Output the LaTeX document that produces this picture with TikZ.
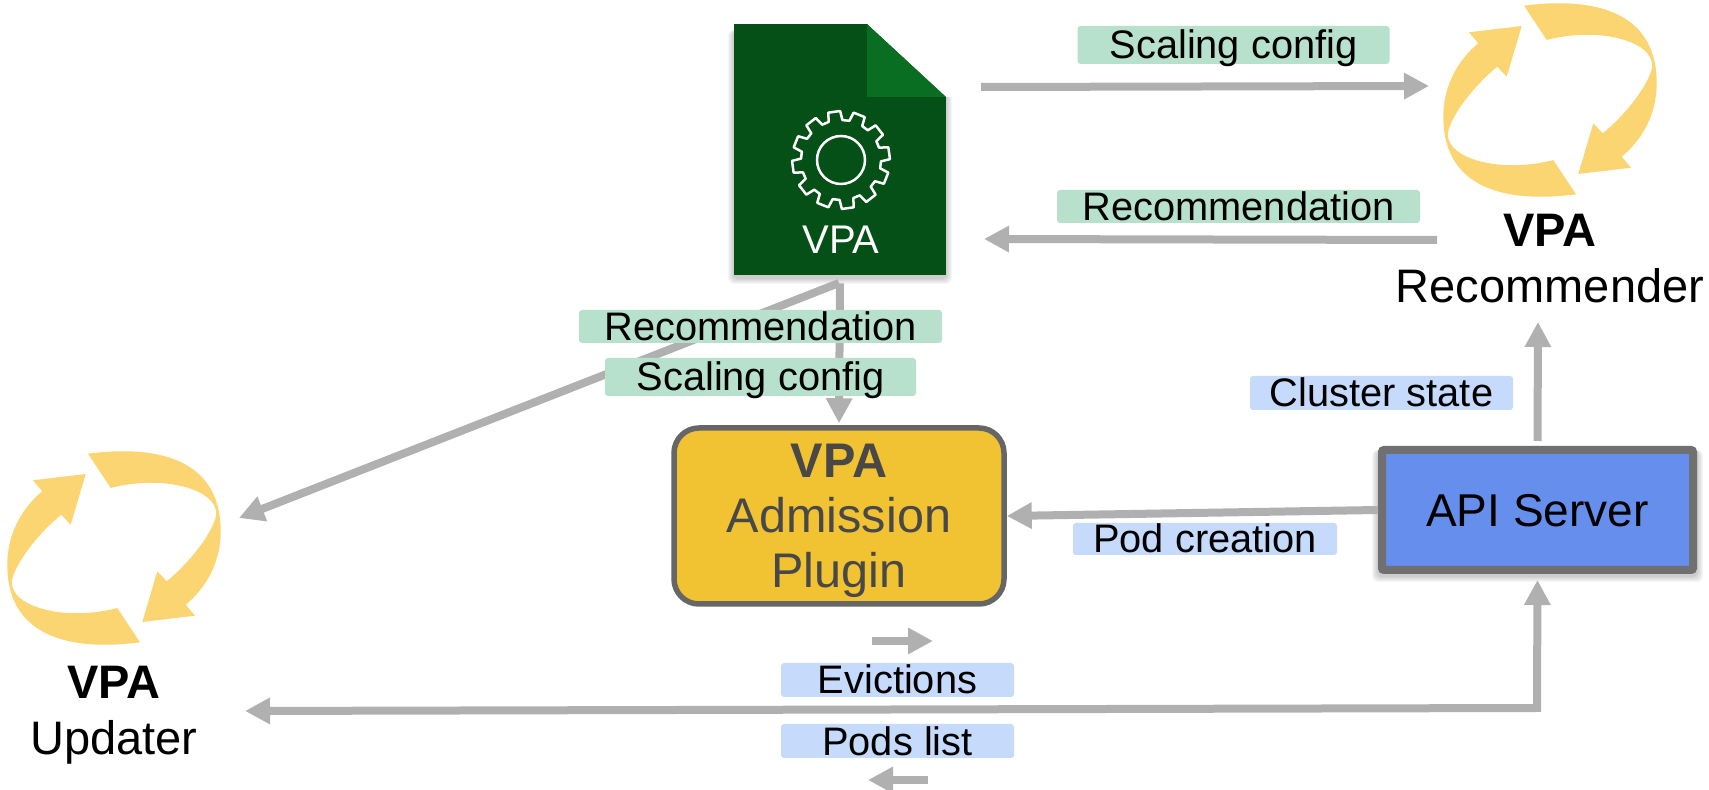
\documentclass[tikz,border=0pt]{standalone}
\usepackage{fontspec}
\setmainfont{Liberation Sans}
\usetikzlibrary{arrows.meta}
\definecolor{flowgray}{HTML}{B0B0B0}
\definecolor{docgreen}{HTML}{045016}
\definecolor{foldgreen}{HTML}{096E22}
\definecolor{cyclegold}{HTML}{FBD572}
\definecolor{pluginfill}{HTML}{F1C232}
\definecolor{pluginedge}{HTML}{666666}
\definecolor{plugintext}{HTML}{484848}
\definecolor{apifill}{HTML}{668EEC}
\definecolor{apiedge}{HTML}{707070}
\definecolor{greentag}{HTML}{B7E1CD}
\definecolor{bluetag}{HTML}{C6DAFC}
\tikzset{
  >={Triangle[length=12.5pt,width=12.5pt]},
  flow/.style={draw=flowgray,line width=4pt},
  softshadow/.style={black,opacity=.035,rounded corners=3pt},
  tag/.style={rounded corners=1.5pt,inner sep=0pt,text=black,font=\fontsize{19.9}{22}\selectfont,
    text height=14pt,text depth=0pt,minimum height=17pt},
  greenlabel/.style={tag,fill=greentag},
  bluelabel/.style={tag,fill=bluetag},
  toollabel/.style={align=center,text=black,font=\fontsize{23.5}{28}\selectfont},
  cycle/.pic={
    \foreach \rot in {0,180}{
      \fill[cyclegold,rotate=\rot] (26,94.3)
        .. controls (-30,101.7) and (-106.7,96.7) .. (-106.7,16.7)
        .. controls (-106.7,-16.7) and (-90,-41.7) .. (-71.7,-56.7)
        -- (-81,-67.7) -- (-28.3,-74) -- (-43.3,-23.3) -- (-52.7,-33.3)
        .. controls (-73.3,-16.7) and (-98.3,13.3) .. (-102.3,33.3)
        .. controls (-103.3,60) and (-46.7,73.3) .. (3.3,60)
        -- cycle;
    }
  }
}
\begin{document}
\begin{tikzpicture}[x=0.5pt,y=-0.5pt]
\useasboundingbox (0,0) rectangle (1709,790);

% free ends
\coordinate (docfoot) at (839,283);
\coordinate (configout) at (981,87);
\coordinate (configin) at (1429,86);
\coordinate (recout) at (1437,240);
\coordinate (recin) at (984,239);
\coordinate (updaterin) at (239,518);
\coordinate (clusterin) at (1538,322);
\coordinate (podsin) at (245,711);
\coordinate (podscorner) at (1537,708);
\coordinate (evictout) at (872,641);
\coordinate (evictin) at (933,641);
\coordinate (listout) at (928,780);
\coordinate (listin) at (868,780);

% main boxes
\foreach \s in {1,...,6}{
  \fill[softshadow] (734-\s,30) rectangle (946+\s,278+\s);
  \fill[softshadow] (1378-\s,450) rectangle (1697+\s,576+\s);
}
\node[fill=docgreen,minimum width=106pt,minimum height=125.5pt,inner sep=0pt] (doc) at (840,149.5) {};
\fill[white] (867,24) -- (867,20) -- (955,20) -- (955,97) -- (946,97) -- cycle;
\fill[foldgreen] (867,24) -- (946,97) -- (867,97) -- cycle;
\draw[white,line width=1.25pt] (841,160) circle (24);
\begin{scope}[shift={(841,160)},rotate=8]
\draw[white,line width=1.25pt,line join=round] (-10:40)
  \foreach \a in {0,30,...,330}{
    -- (\a-10:40) -- (\a-7:49) -- (\a+7:49) -- (\a+10:40)
  } -- cycle;
\end{scope}
\node[text=white,font=\fontsize{20}{22}\selectfont,inner sep=0pt] (doctext) at (841,240) {VPA};

\node[draw=pluginedge,fill=pluginfill,line width=2.75pt,rounded corners=12.5pt,minimum width=165pt,minimum height=88pt,
  inner sep=0pt] (plugin) at (839,516) {};
\node[align=center,text=plugintext,font=\fontsize{24.3}{27.5}\selectfont,inner sep=0pt] (plugintext) at (839,521)
  {\textbf{VPA}\\Admission\\Plugin};
\node[draw=apiedge,fill=apifill,line width=4pt,rounded corners=1pt,minimum width=155.5pt,minimum height=60pt,
  text=black,font=\fontsize{23}{26}\selectfont,text height=17pt,text depth=0pt,inner sep=0pt] (api) at (1537.5,510) {API Server};

% cycles
\node[minimum width=107pt,minimum height=97pt,inner sep=0pt] (recommender) at (1550,100) {};
\pic at (recommender) {cycle};
\node[minimum width=107pt,minimum height=96pt,inner sep=0pt] (updater) at (114,548) {};
\pic at (updater) {cycle};
\node[toollabel] (recommendertext) at (1550,259) {\textbf{VPA}\\Recommender};
\node[toollabel] (updatertext) at (114,715.5) {\textbf{VPA}\\Updater};

% connectors
\draw[flow,->] (configout) -- (configin);
\draw[flow,->] (recout) -- (recin);
\draw[flow,->] (docfoot) -- (updaterin);
\draw[flow,->,shorten <=4pt,shorten >=1pt] (doc.south) -- (plugin.north);
\draw[flow,->] (api.west) -- (plugin.east);
\draw[flow,->,shorten <=2.5pt] (api.north) -- (clusterin);
\draw[flow,<->,shorten >=3pt] (podsin) -- (podscorner) -- (api.south);
\draw[flow,->] (evictout) -- (evictin);
\draw[flow,->] (listout) -- (listin);

% labels
\node[greenlabel,minimum width=156pt,minimum height=19pt] (configtop) at (1233.5,45) {Scaling config};
\node[greenlabel,minimum width=181.5pt,minimum height=16.5pt] (rectop) at (1238.5,206.5) {Recommendation};
\node[greenlabel,minimum width=181.5pt,minimum height=16.5pt] (recmid) at (760.5,326.5) {Recommendation};
\node[greenlabel,minimum width=155.5pt,minimum height=19pt] (configmid) at (760.5,377) {Scaling config};
\node[bluelabel,minimum width=131.5pt] (cluster) at (1381.5,393) {Cluster state};
\node[bluelabel,minimum width=132pt,minimum height=16pt] (podcreate) at (1205,539) {Pod creation};
\node[bluelabel,minimum width=116.5pt] (evictions) at (897.5,680) {Evictions};
\node[bluelabel,minimum width=116.5pt] (podslist) at (897.5,741) {Pods list};
\end{tikzpicture}
\end{document}
